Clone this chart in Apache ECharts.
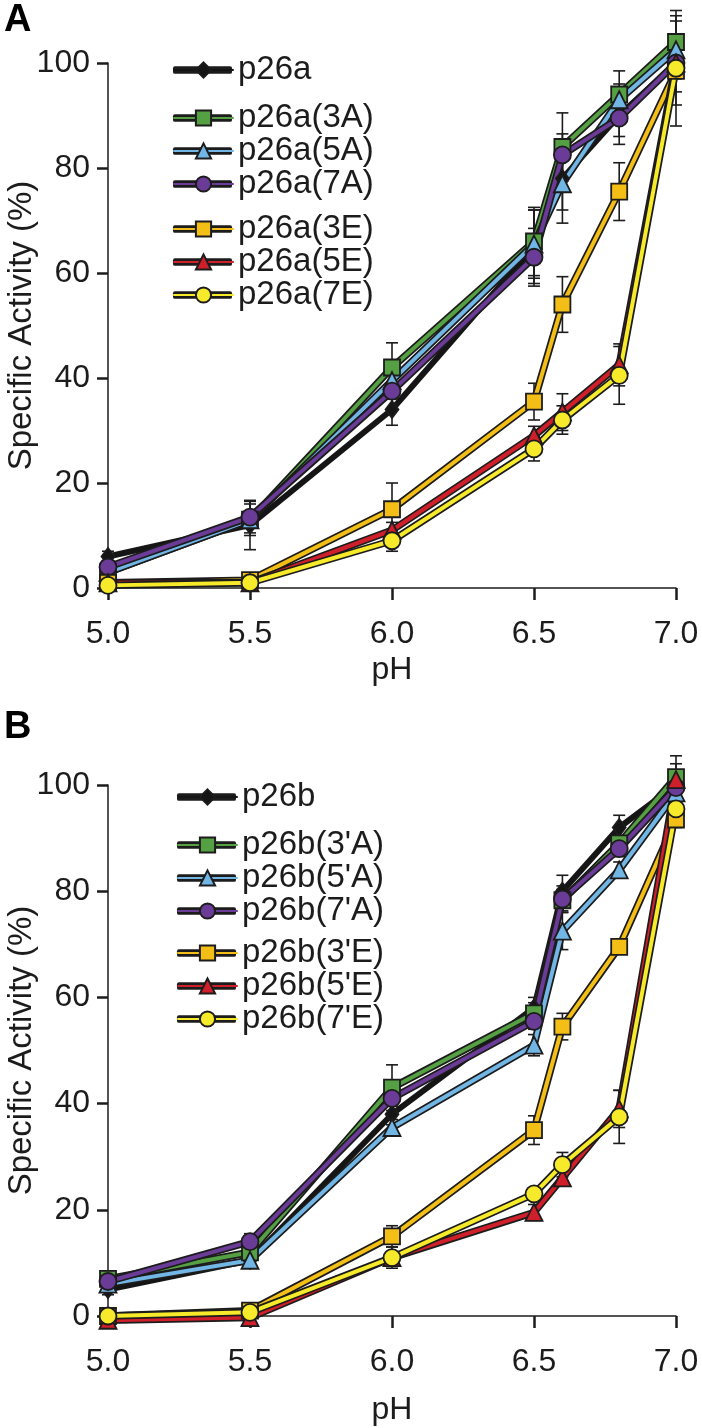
<!DOCTYPE html>
<html>
<head>
<meta charset="utf-8">
<script src="https://cdn.jsdelivr.net/npm/echarts@6/dist/echarts.min.js"></script>
<style>
  html, body { margin: 0; padding: 0; background: #ffffff; }
  #chart { width: 702px; height: 1428px; }
</style>
</head>
<body>
<div id="chart"></div>
<script>
// ---------- data ----------
const PH = [5.0, 5.5, 6.0, 6.5, 6.6, 6.8, 7.0];
const X_TICKS = [5.0, 5.5, 6.0, 6.5, 7.0];
const Y_TICKS = [0, 20, 40, 60, 80, 100];

// Panel A
const A_NAMES = ['p26a', 'p26a(3A)', 'p26a(5A)', 'p26a(7A)', 'p26a(3E)', 'p26a(5E)', 'p26a(7E)'];
const A_p26a   = [6, 12, 34, 65, 78, 90, 100];
const A_p26a3A = [3, 13, 42, 66, 84, 94, 104];
const A_p26a5A = [3, 13, 39.5, 65.5, 77, 93, 102.5];
const A_p26a7A = [4, 13.5, 37.5, 63, 82.5, 89.5, 100];
const A_p26a3E = [1, 1.5, 15, 35.5, 54, 75.5, 98.5];
const A_p26a5E = [1, 1, 11, 29, 33.5, 42.5, 100];
const A_p26a7E = [0.5, 1, 9, 26.5, 32, 40.5, 99];
const A_ERR_p26a   = [1, 4.7, 3, 7, 6, 4, 8];
const A_ERR_p26a3A = [1, 3, 4.7, 6.5, 6.5, 4.5, 5];
const A_ERR_p26a5A = [0.8, 1.5, 1.5, 6.5, 7.5, 3, 3];
const A_ERR_p26a7A = [0.8, 3, 1.5, 5.5, 4, 5, 2];
const A_ERR_p26a3E = [0.5, 0.5, 5, 3.5, 5.3, 5.5, 4];
const A_ERR_p26a5E = [0.5, 0.5, 1.5, 1.8, 3.5, 4, 3];
const A_ERR_p26a7E = [0.5, 0.5, 2, 2.3, 2.7, 5.5, 11];

// Panel B
const B_NAMES = ['p26b', "p26b(3'A)", "p26b(5'A)", "p26b(7'A)", "p26b(3'E)", "p26b(5'E)", "p26b(7'E)"];
const B_p26b   = [5, 10.5, 38, 58, 80, 92, 100];
const B_p26b3A = [7, 12, 43, 57, 78.3, 89, 101.5];
const B_p26b5A = [6, 10.5, 35.5, 51, 72.5, 84, 98.5];
const B_p26b7A = [6.5, 14, 41, 55.5, 78.5, 88, 99.5];
const B_p26b3E = [0, 1, 15, 35, 54.5, 69.5, 93.5];
const B_p26b5E = [-0.8, -0.3, 11, 19.5, 26, 39, 101];
const B_p26b7E = [0, 0.7, 11, 23, 28.5, 37.5, 95.5];
const B_ERR_p26b   = [1, 1.5, 2, 2, 3, 2.3, 4];
const B_ERR_p26b3A = [1, 1.5, 4.3, 2, 2, 1.5, 4];
const B_ERR_p26b5A = [1, 1.5, 1.5, 2, 3.5, 1.5, 2];
const B_ERR_p26b7A = [1, 1.5, 1.5, 1.5, 2.5, 1.5, 1.5];
const B_ERR_p26b3E = [0.5, 1, 2, 2.7, 2.5, 1, 1.5];
const B_ERR_p26b5E = [0.5, 1, 1, 1.5, 1, 3.5, 1.5];
const B_ERR_p26b7E = [0.5, 1, 2, 1, 2.3, 5, 1.5];

// ---------- style ----------
const COLORS = ['#151515', '#55a043', '#72b6e6', '#6a3b97', '#f3bf16', '#cf1f2a', '#f6ea2a'];
const SYMBOLS = ['diamond', 'rect', 'triangle', 'circle', 'rect', 'triangle', 'circle'];
const SYM_SIZES = [[13, 17], 16, 17, 17, 16, 17, 17];
const FONT = "'Liberation Sans', Arial, Helvetica, sans-serif";
const INK = '#1c1c1c';

const panels = [
  { names: A_NAMES,
    vals: [A_p26a, A_p26a3A, A_p26a5A, A_p26a7A, A_p26a3E, A_p26a5E, A_p26a7E],
    errs: [A_ERR_p26a, A_ERR_p26a3A, A_ERR_p26a5A, A_ERR_p26a7A, A_ERR_p26a3E, A_ERR_p26a5E, A_ERR_p26a7E],
    grid: { left: 108, right: 26, top: 63, height: 525 },
    nameGapX: 66,
    legendLeft: 173, legendTops: [53.5, 101.5, 212.5], groups: [[0], [1, 2, 3], [4, 5, 6]] },
  { names: B_NAMES,
    vals: [B_p26b, B_p26b3A, B_p26b5A, B_p26b7A, B_p26b3E, B_p26b5E, B_p26b7E],
    errs: [B_ERR_p26b, B_ERR_p26b3A, B_ERR_p26b5A, B_ERR_p26b7A, B_ERR_p26b3E, B_ERR_p26b5E, B_ERR_p26b7E],
    grid: { left: 108, right: 26, top: 785, height: 531 },
    nameGapX: 78,
    legendLeft: 177, legendTops: [780.5, 828.5, 936.5], groups: [[0], [1, 2, 3], [4, 5, 6]] }
];

const grids = [], xAxes = [], yAxes = [], series = [], legends = [];

function renderErr(params, api) {
  const x = api.value(0), y = api.value(1), e = api.value(2);
  const t = api.coord([x, y + e]);
  const b = api.coord([x, y - e]);
  const w = 6;
  const st = { stroke: INK, lineWidth: 1.6 };
  return { type: 'group', children: [
    { type: 'line', shape: { x1: t[0], y1: t[1], x2: b[0], y2: b[1] }, style: st },
    { type: 'line', shape: { x1: t[0] - w, y1: t[1], x2: t[0] + w, y2: t[1] }, style: st },
    { type: 'line', shape: { x1: b[0] - w, y1: b[1], x2: b[0] + w, y2: b[1] }, style: st }
  ] };
}

panels.forEach((p, pi) => {
  grids.push(Object.assign({ containLabel: false, outerBoundsMode: 'none' }, p.grid));
  xAxes.push({
    type: 'value', gridIndex: pi, min: 5, max: 7, interval: 0.5,
    name: 'pH', nameLocation: 'middle', nameGap: p.nameGapX, nameMoveOverlap: false,
    nameTextStyle: { fontFamily: FONT, fontSize: 32, color: INK, lineHeight: 33 },
    axisLine: { show: true, onZero: false, lineStyle: { color: INK, width: 1.5 } },
    axisTick: { show: true, inside: false, length: 12, lineStyle: { color: INK, width: 2.5 } },
    axisLabel: { margin: 30, fontFamily: FONT, fontSize: 32, color: INK, lineHeight: 32,
      formatter: v => X_TICKS.indexOf(+v.toFixed(1)) >= 0 ? v.toFixed(1) : '' },
    splitLine: { show: false }
  });
  yAxes.push({
    type: 'value', gridIndex: pi, min: 0, max: 100, interval: 20,
    name: 'Specific Activity (%)', nameLocation: 'middle', nameGap: 68, nameRotate: 90,
    nameMoveOverlap: false,
    nameTextStyle: { fontFamily: FONT, fontSize: 33, color: INK, lineHeight: 36 },
    axisLine: { show: true, lineStyle: { color: INK, width: 1.5 } },
    axisTick: { show: true, inside: false, length: 11, lineStyle: { color: INK, width: 2.5 } },
    axisLabel: { margin: 18, fontFamily: FONT, fontSize: 32, color: INK,
      formatter: v => Y_TICKS.indexOf(v) >= 0 ? String(v) : '' },
    splitLine: { show: false }
  });

  // error bars (drawn first, underneath)
  const errData = [];
  p.vals.forEach((arr, i) => arr.forEach((v, k) => errData.push([PH[k], v, p.errs[i][k]])));
  series.push({
    type: 'custom', name: 'err' + pi, xAxisIndex: pi, yAxisIndex: pi, z: 1, silent: true,
    renderItem: renderErr, data: errData, encode: { x: 0, y: 1 }, clip: false
  });

  p.names.forEach((nm, i) => {
    const data = PH.map((x, k) => [x, p.vals[i][k]]);
    series.push({
      type: 'line', name: nm + '#o', xAxisIndex: pi, yAxisIndex: pi, z: 2, silent: true,
      data: data, symbol: 'none', clip: false,
      itemStyle: { color: INK },
      lineStyle: { color: INK, width: i === 0 ? 6 : 7.5, join: 'round', cap: 'round' }
    });
    series.push({
      type: 'line', name: nm, xAxisIndex: pi, yAxisIndex: pi, z: 2, silent: true,
      data: data, symbol: SYMBOLS[i], symbolSize: SYM_SIZES[i], showSymbol: true, clip: false,
      itemStyle: { color: COLORS[i], borderColor: INK, borderWidth: 1.8, opacity: 1 },
      lineStyle: { color: COLORS[i], width: i === 0 ? 4.5 : 4, join: 'round', cap: 'round' }
    });
  });

  p.groups.forEach((g, gi) => {
    const base = {
      orient: 'vertical', left: p.legendLeft, top: p.legendTops[gi], padding: 0, itemGap: 0,
      itemWidth: 59, selectedMode: false
    };
    legends.push(Object.assign({}, base, {
      z: 4, icon: 'roundRect', itemHeight: 7.5,
      data: g.map(i => p.names[i] + '#o'),
      formatter: n => n.replace('#o', ''),
      textStyle: { fontFamily: FONT, fontSize: 33, lineHeight: 31, color: 'rgba(0,0,0,0)' },
      itemStyle: { color: INK }
    }));
    legends.push(Object.assign({}, base, {
      z: 5, itemHeight: 19,
      data: g.map(i => p.names[i]),
      textStyle: { fontFamily: FONT, fontSize: 33, lineHeight: 31, color: INK }
    }));
  });
});

const chart = echarts.init(document.getElementById('chart'), null, { renderer: 'canvas' });
chart.setOption({
  backgroundColor: '#ffffff',
  animation: false,
  grid: grids, xAxis: xAxes, yAxis: yAxes, series: series, legend: legends,
  graphic: [
    { type: 'text', left: 4, top: 2, style: { text: 'A', fontFamily: FONT, fontSize: 38, fontWeight: 'bold', fill: '#000' } },
    { type: 'text', left: 4, top: 709, style: { text: 'B', fontFamily: FONT, fontSize: 38, fontWeight: 'bold', fill: '#000' } }
  ]
});
</script>
</body>
</html>
